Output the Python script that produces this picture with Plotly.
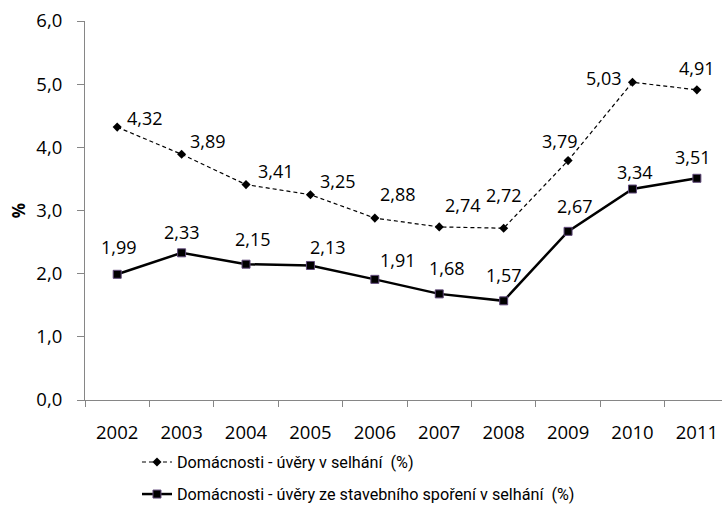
import plotly.graph_objects as go

years = ["2002", "2003", "2004", "2005", "2006", "2007", "2008", "2009", "2010", "2011"]
npl_households = [4.32, 3.89, 3.41, 3.25, 2.88, 2.74, 2.72, 3.79, 5.03, 4.91]
npl_building_savings = [1.99, 2.33, 2.15, 2.13, 1.91, 1.68, 1.57, 2.67, 3.34, 3.51]
name1 = "Domácnosti - úvěry v selhání  (%)"
name2 = "Domácnosti - úvěry ze stavebního spoření v selhání  (%)"
y_ticks = [0, 1, 2, 3, 4, 5, 6]

# label offsets (pixels) - styling only
shift1 = [(28, 9), (26, 13), (30, 14), (28, 14), (23, 24), (24, 22), (0, 33), (-8, 20), (-28, 4), (0, 22)]
shift2 = [(2, 27), (0, 21), (7, 25), (18, 18), (23, 19), (8, 26), (0, 26), (7, 25), (3, 17), (-4, 21)]

FONT = "Open Sans"
LFONT = "Roboto"

def fmt(v):
    return f"{v:.2f}".replace(".", ",")

fig = go.Figure()
fig.add_trace(go.Scatter(
    x=years, y=npl_households, name=name1, mode="lines+markers",
    line=dict(color="black", width=1.2, dash="4px,3px"),
    marker=dict(symbol="diamond", size=7, color="black"),
    legendgroup="g1",
))
fig.add_trace(go.Scatter(
    x=years, y=npl_building_savings, name=name2, mode="lines+markers",
    line=dict(color="black", width=2.5),
    marker=dict(symbol="square", size=8, color="black", line=dict(color="#60497a", width=1)),
    legendgroup="g2",
))

# category axis: annotation x uses the category's serial index
for series, shifts in ((npl_households, shift1), (npl_building_savings, shift2)):
    for i, (v, (dx, dy)) in enumerate(zip(series, shifts)):
        fig.add_annotation(x=i, y=v, xref="x", yref="y", text=fmt(v),
                           showarrow=False, xshift=dx, yshift=dy,
                           font=dict(family=FONT, size=18, color="black"))

fig.update_layout(
    width=722, height=512,
    margin=dict(l=85, r=0, t=21, b=102),
    paper_bgcolor="white", plot_bgcolor="white",
    font=dict(family=FONT, size=18, color="black"),
    showlegend=True,
    legend=dict(x=0.0816, y=-0.207, xanchor="left", yanchor="middle", xref="paper", yref="paper",
                font=dict(family=LFONT, size=16.2, color="black"), bgcolor="rgba(0,0,0,0)",
                itemwidth=30, traceorder="grouped", tracegroupgap=8),
    xaxis=dict(
        type="category", range=[-0.5, 9.39], automargin=False,
        showline=True, linecolor="#868686", linewidth=1,
        ticks="outside", tickson="boundaries", ticklen=6, tickcolor="#868686",
        showgrid=False, zeroline=False, ticklabeloverflow="allow",
        tickfont=dict(family=FONT, size=18.5), ticklabelstandoff=16,
    ),
    yaxis=dict(
        range=[0, 6], tickvals=y_ticks, automargin=False,
        ticktext=[f"{t:.1f}".replace(".", ",") for t in y_ticks],
        showline=True, linecolor="#868686", linewidth=1,
        ticks="outside", ticklen=7, tickcolor="#868686",
        showgrid=False, zeroline=False, ticklabeloverflow="allow",
        tickfont=dict(family=FONT, size=18.5), ticklabelstandoff=11,
        title=dict(text="<b>%</b>", font=dict(family=FONT, size=17), standoff=6),
    ),
)

fig.write_html("out.html", config={"displayModeBar": False},
               post_script="document.body.style.margin='0';document.body.style.overflow='hidden';")
